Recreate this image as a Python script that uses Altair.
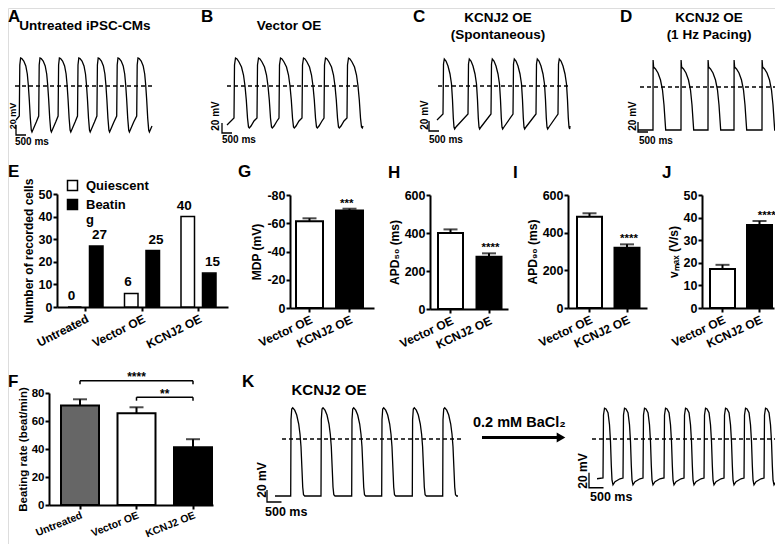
import altair as alt
import pandas as pd

FONT = "Liberation Sans"
CW, CH = 767, 536


def X(v):
    return v - 8


def Y(v):
    return v - 8


# ---------------- data ----------------
CATS3 = ["Untreated", "Vector OE", "KCNJ2 OE"]
CATS2 = ["Vector OE", "KCNJ2 OE"]

# E: number of recorded cells
E_SERIES = ["Quiescent", "Beating"]
E_QUIESCENT = [0, 6, 40]
E_BEATING = [27, 25, 15]

# F: beating rate (beat/min), mean and SEM
F_MEAN = [71.0, 65.5, 41.2]
F_SEM = [4.5, 4.3, 5.8]
F_COMPARE_FROM = ["Untreated", "Vector OE"]
F_COMPARE_TO = ["KCNJ2 OE", "KCNJ2 OE"]
F_COMPARE_MARK = ["****", "**"]
F_COMPARE_LEVEL = [88.8, 77.0]

# G-J: Vector OE vs KCNJ2 OE
G_MEAN = [-61.5, -69.0]
G_SEM = [2.0, 1.3]
G_MARK = ["", "***"]
H_MEAN = [400, 275]
H_SEM = [19, 18]
H_MARK = ["", "****"]
I_MEAN = [485, 320]
I_SEM = [18, 18]
I_MARK = ["", "****"]
J_MEAN = [17.3, 36.7]
J_SEM = [1.8, 1.8]
J_MARK = ["", "****"]

# Scale bars of the recordings
SCALE_MV = 20
SCALE_MS = 500

# Action potential recordings: one beat's shape (ms after upstroke, mV) and upstroke times (ms)
A_BEAT_T = [0, 25, 65, 125, 225, 325, 400, 450, 500, 550, 600, 635, 700, 850]
A_BEAT_V = [-60, 42, 56, 55, 50, 40, 24, 2, -28, -64, -88, -92, -86, -72]
A_ONSETS = [165, 1135, 2105, 3075, 4045, 5035, 6035]
A_START = [0, -68]
A_END = [6800, -80]

B_BEAT_T = [0, 25, 75, 150, 250, 375, 475, 550, 615, 675, 725, 765, 850, 1000]
B_BEAT_V = [-64, 42, 56, 54, 48, 38, 22, 0, -28, -64, -82, -84, -80, -70]
B_ONSETS = [350, 1500, 2600, 3750, 4850, 6000]
B_START = [0, -78]
B_END = [6800, -80]

C_BEAT_T = [0, 25, 65, 150, 250, 350, 425, 475, 515, 550, 585, 650]
C_BEAT_V = [-56, 44, 54, 50, 40, 24, 4, -28, -64, -82, -86, -82]
C_ONSETS = [300, 1550, 2700, 3800, 4950, 6050]
C_START = [0, -68]
C_END = [6650, -80]

D_BEAT_T = [0, 5, 30, 125, 250, 375, 475, 550, 600, 635]
D_BEAT_V = [-86, 54, 40, 36, 28, 14, -6, -36, -66, -86]
D_ONSETS = [750, 2150, 3500, 4800, 6200]
D_START = [0, -86]
D_END = [6950, -86]

K1_BEAT_T = [0, 10, 35, 69, 138, 207, 276, 321, 355, 386, 414, 442, 483]
K1_BEAT_V = [-95, 32, 50, 52, 48, 40, 25, 8, -13, -48, -80, -93, -95]
K1_ONSETS = [542, 1587, 2646, 3681, 4737, 5786]
K1_START = [0, -95]
K1_END = [6314, -95]

K2_BEAT_T = [0, 17, 52, 104, 173, 224, 259, 286, 311, 345, 414, 587]
K2_BEAT_V = [-52, 32, 41, 40, 35, 19, -4, -35, -55, -61, -57, -53]
K2_ONSETS = [207, 897, 1587, 2312, 3002, 3692, 4382, 5072, 5762]
K2_START = [0, -53]
K2_END = [6383, -55]

layers = []


def txt(s, x, y, size=12, align="center", baseline="middle", angle=0):
    return alt.Chart(alt.Data(values=[{}])).mark_text(
        text=s, font=FONT, fontSize=size, fontWeight="bold", color="black",
        align=align, baseline=baseline, angle=angle,
    ).encode(x=alt.value(X(x)), y=alt.value(Y(y)))


def trace_layers(beat_t, beat_v, onsets, start, end, ms_px, mv_px, x0, y0, dash, sbar):
    rows = [tuple(start)]
    for on in onsets:
        for dt, v in zip(beat_t, beat_v):
            if on + dt < end[0]:
                rows.append((on + dt, v))
    rows.append(tuple(end))
    df = pd.DataFrame(rows, columns=["t", "v"])
    df["i"] = range(len(df))
    xs = alt.Scale(domain=[0, 1000], range=[X(x0), X(x0) + 1000.0 / ms_px], nice=False, zero=False)
    ys = alt.Scale(domain=[0, 100], range=[Y(y0), Y(y0) - 100.0 / mv_px], nice=False, zero=False)
    line = alt.Chart(df).mark_line(color="black", strokeWidth=1.3).encode(
        x=alt.X("t:Q", scale=xs, axis=None), y=alt.Y("v:Q", scale=ys, axis=None), order="i:Q")
    ddf = pd.DataFrame({"t": [dash[0]], "t2": [dash[1]], "v": [0]})
    dashed = alt.Chart(ddf).mark_rule(color="black", strokeWidth=1.5, strokeDash=[4, 3]).encode(
        x=alt.X("t:Q", scale=xs, axis=None), x2="t2:Q", y=alt.Y("v:Q", scale=ys, axis=None))
    sdf = pd.DataFrame({"t": [sbar[0], sbar[0], sbar[0] + SCALE_MS],
                        "v": [sbar[1] + SCALE_MV, sbar[1], sbar[1]], "i": [0, 1, 2]})
    bar = alt.Chart(sdf).mark_line(color="black", strokeWidth=1.3).encode(
        x=alt.X("t:Q", scale=xs, axis=None), y=alt.Y("v:Q", scale=ys, axis=None), order="i:Q")
    return [line, dashed, bar]


def band(domain, a0, a1, c0, step, bw):
    L = a1 - a0
    n = len(domain)
    pi = 1 - bw / step
    rem = L - step * (n - pi)
    po = rem / (2 * step)
    start0 = c0 - bw / 2 - a0
    align = start0 / rem if rem > 0 else 0.5
    return alt.Scale(domain=domain, range=[X(a0), X(a1)], paddingInner=pi,
                     paddingOuter=po, align=align)


def yaxis(x_img, title, values, lsize=12.5, tsize=12):
    return alt.Axis(orient="left", offset=-X(x_img), values=values, title=title, grid=False,
                    domainColor="black", domainWidth=2, tickColor="black", tickWidth=2,
                    tickSize=4, labelFont=FONT, labelFontSize=lsize, labelFontWeight="bold",
                    labelColor="black", labelPadding=1, titleFont=FONT, titleFontSize=tsize,
                    titleFontWeight="bold", titleColor="black", titlePadding=3,
                    labelExpr="'' + datum.value", labelOverlap=False)


def xaxis(y_img, lsize=12, angle=335, pad=2):
    return alt.Axis(orient="bottom", offset=Y(y_img) - CH, title=None, labelAngle=angle,
                    grid=False, domainColor="black", domainWidth=2, tickColor="black",
                    tickWidth=2, tickSize=4, labelFont=FONT, labelFontSize=lsize,
                    labelFontWeight="bold", labelColor="black", labelPadding=pad,
                    labelOverlap=False)


# ---------------- row 1: recordings A-D ----------------
layers += trace_layers(A_BEAT_T, A_BEAT_V, A_ONSETS, A_START, A_END, 50, 2, 16, 86, (-50, 6850), (0, -98))
layers += trace_layers(B_BEAT_T, B_BEAT_V, B_ONSETS, B_START, B_END, 50, 2, 227, 86, (0, 6550), (-250, -94))
layers += trace_layers(C_BEAT_T, C_BEAT_V, C_ONSETS, C_START, C_END, 50, 2, 437, 86, (50, 6650), (-400, -90))
layers += trace_layers(D_BEAT_T, D_BEAT_V, D_ONSETS, D_START, D_END, 50, 2, 638, 87, (100, 6950), (0, -90))

layers += [
    txt("20 mV", 12.5, 116, 9, angle=270), txt("500 ms", 15, 142, 10, align="left"),
    txt("20 mV", 216, 116, 10, angle=270), txt("500 ms", 222, 140, 10, align="left"),
    txt("20 mV", 424.5, 115, 10, angle=270), txt("500 ms", 429, 140, 10, align="left"),
    txt("20 mV", 632.5, 116, 10, angle=270), txt("500 ms", 639, 141, 10, align="left"),
    txt("Untreated iPSC-CMs", 85, 26, 13.5), txt("Vector OE", 289, 26, 13.5),
    txt("KCNJ2 OE", 498, 18, 13.5), txt("(Spontaneous)", 498, 35, 13.5),
    txt("KCNJ2 OE", 709, 18, 13.5), txt("(1 Hz Pacing)", 709, 35, 13.5),
]

# ---------------- E ----------------
edf = pd.DataFrame({"cat": CATS3 * 2, "series": ["Quiescent"] * 3 + ["Beating"] * 3,
                    "value": E_QUIESCENT + E_BEATING})
ex = band(CATS3, 57, 228, 85.5, 56.5, 56.5)
eo = alt.Scale(domain=E_SERIES, paddingInner=0.372, paddingOuter=0.5)
ey = alt.Scale(domain=[0, 50], range=[Y(307), Y(194)], nice=False, zero=False)
elegend = alt.Legend(orient="none", legendX=X(66), legendY=Y(179), title=None, direction="vertical",
                     symbolType="square", symbolSize=100, symbolStrokeColor="black",
                     symbolStrokeWidth=1.5, labelFont=FONT, labelFontSize=13,
                     labelFontWeight="bold", labelColor="black", rowPadding=2, labelOffset=7,
                     labelExpr="datum.label == 'Beating' ? ['Beatin', 'g'] : datum.label")
layers.append(alt.Chart(edf).mark_bar(stroke="black", strokeWidth=1.5).encode(
    x=alt.X("cat:N", scale=ex, axis=xaxis(307, 12, 333)),
    xOffset=alt.XOffset("series:N", scale=eo),
    y=alt.Y("value:Q", scale=ey, axis=yaxis(57, "Number of recorded cells", [0, 10, 20, 30, 40, 50])),
    fill=alt.Fill("series:N", scale=alt.Scale(domain=E_SERIES, range=["white", "black"]), legend=elegend),
))
layers.append(alt.Chart(edf).mark_text(font=FONT, fontSize=13.5, fontWeight="bold", baseline="bottom", dy=-4, color="black").encode(
    x=alt.X("cat:N", scale=ex, axis=None),
    xOffset=alt.XOffset("series:N", scale=eo),
    y=alt.Y("value:Q", scale=ey, axis=None),
    text="value:Q",
))


# ---------------- G-J ----------------
def small_panel(means, sems, marks, a0, a1, c0, step, bw, ydom, yrng_img, axis_y_img, axis_x_img, ticks, title):
    df = pd.DataFrame({"cat": CATS2, "mean": means, "sem": sems, "mark": marks})
    df["top"] = [m + (s if m >= 0 else -s) for m, s in zip(means, sems)]
    xs = band(CATS2, a0, a1, c0, step, bw)
    ys = alt.Scale(domain=ydom, range=[Y(yrng_img[0]), Y(yrng_img[1])], nice=False, zero=False)
    out = []
    out.append(alt.Chart(df).mark_bar(stroke="black", strokeWidth=2).encode(
        x=alt.X("cat:N", scale=xs, axis=xaxis(axis_y_img)),
        y=alt.Y("mean:Q", scale=ys, axis=yaxis(axis_x_img, title, ticks)),
        fill=alt.Fill("cat:N", scale=alt.Scale(domain=CATS2, range=["white", "black"]), legend=None),
    ))
    out.append(alt.Chart(df).mark_rule(color="black", strokeWidth=2).encode(
        x=alt.X("cat:N", scale=xs, axis=None), y=alt.Y("mean:Q", scale=ys, axis=None), y2="top:Q"))
    out.append(alt.Chart(df).mark_tick(color="black", thickness=2, size=14).encode(
        x=alt.X("cat:N", scale=xs, axis=None), y=alt.Y("top:Q", scale=ys, axis=None)))
    out.append(alt.Chart(df).mark_text(font=FONT, fontSize=11.5, fontWeight="bold", baseline="alphabetic", dy=-2, color="black").encode(
        x=alt.X("cat:N", scale=xs, axis=None), y=alt.Y("top:Q", scale=ys, axis=None), text="mark:N"))
    return out


layers += small_panel(G_MEAN, G_SEM, G_MARK, 290, 374, 309.5, 40, 27, [-80, 0], (195, 308), 308, 290,
                      [-80, -60, -40, -20, 0], "MDP (mV)")
layers += small_panel(H_MEAN, H_SEM, H_MARK, 430, 508, 450.5, 38.5, 25, [0, 600], (309, 195), 309, 430,
                      [0, 200, 400, 600], "APD₅₀ (ms)")
layers += small_panel(I_MEAN, I_SEM, I_MARK, 568, 647, 589.5, 37.5, 25, [0, 600], (308, 195), 308, 568,
                      [0, 200, 400, 600], "APD₉₀ (ms)")
layers += small_panel(J_MEAN, J_SEM, J_MARK, 702, 774, 722.5, 37, 25, [0, 50], (308, 195), 308, 702,
                      [0, 10, 20, 30, 40, 50], "vₘₐₓ (V/s)")

# ---------------- F ----------------
fdf = pd.DataFrame({"cat": CATS3, "mean": F_MEAN, "sem": F_SEM})
fdf["top"] = fdf["mean"] + fdf["sem"]
fx = band(CATS3, 49, 213, 80, 56.5, 38)
fy = alt.Scale(domain=[0, 80], range=[Y(505), Y(393)], nice=False, zero=False)
layers.append(alt.Chart(fdf).mark_bar(stroke="black", strokeWidth=2).encode(
    x=alt.X("cat:N", scale=fx, axis=xaxis(505, 10.5, 338, 1)),
    y=alt.Y("mean:Q", scale=fy, axis=yaxis(49, "Beating rate (beat/min)", [0, 20, 40, 60, 80], 11.5, 11.5)),
    fill=alt.Fill("cat:N", scale=alt.Scale(domain=CATS3, range=["#666666", "white", "black"]), legend=None),
))
layers.append(alt.Chart(fdf).mark_rule(color="black", strokeWidth=2).encode(
    x=alt.X("cat:N", scale=fx, axis=None), y=alt.Y("mean:Q", scale=fy, axis=None), y2="top:Q"))
layers.append(alt.Chart(fdf).mark_tick(color="black", thickness=2, size=14).encode(
    x=alt.X("cat:N", scale=fx, axis=None), y=alt.Y("top:Q", scale=fy, axis=None)))

idx = {c: i for i, c in enumerate(CATS3)}
sig = pd.DataFrame({"i1": [idx[c] for c in F_COMPARE_FROM], "i2": [idx[c] for c in F_COMPARE_TO],
                    "level": F_COMPARE_LEVEL, "mark": F_COMPARE_MARK})
sig["mid"] = (sig["i1"] + sig["i2"]) / 2
sig["low"] = sig["level"] - 2.5
ends = pd.concat([sig[["i1", "level", "low"]].rename(columns={"i1": "i"}),
                  sig[["i2", "level", "low"]].rename(columns={"i2": "i"})])
fi = alt.Scale(domain=[0, 2], range=[X(80), X(80 + 2 * 56.5)], nice=False, zero=False)
layers.append(alt.Chart(sig).mark_rule(color="black", strokeWidth=1.5).encode(
    x=alt.X("i1:Q", scale=fi, axis=None), x2="i2:Q", y=alt.Y("level:Q", scale=fy, axis=None)))
layers.append(alt.Chart(ends).mark_rule(color="black", strokeWidth=1.5).encode(
    x=alt.X("i:Q", scale=fi, axis=None), y=alt.Y("level:Q", scale=fy, axis=None), y2="low:Q"))
layers.append(alt.Chart(sig).mark_text(font=FONT, fontSize=12, fontWeight="bold", baseline="alphabetic", dy=0.5, color="black").encode(
    x=alt.X("mid:Q", scale=fi, axis=None), y=alt.Y("level:Q", scale=fy, axis=None), text="mark:N"))

# ---------------- K ----------------
layers += trace_layers(K1_BEAT_T, K1_BEAT_V, K1_ONSETS, K1_START, K1_END, 34.5, 1.667, 275, 439, (242, 6452), (-276, -105))
layers += trace_layers(K2_BEAT_T, K2_BEAT_V, K2_ONSETS, K2_START, K2_END, 34.5, 1.333, 597, 439, (-173, 6417), (-276, -65))
layers += [
    txt("20 mV", 261.5, 480, 12, angle=270), txt("500 ms", 265, 512, 12.5, align="left"),
    txt("20 mV", 583, 471, 12, angle=270), txt("500 ms", 590, 497, 12.5, align="left"),
    txt("KCNJ2 OE", 329, 390, 15),
    txt("0.2 mM  BaCl₂", 473, 423, 14.5, align="left"),
    alt.Chart(alt.Data(values=[{}])).mark_rule(color="black", strokeWidth=3).encode(
        x=alt.value(X(482)), x2=alt.value(X(558)), y=alt.value(Y(437.5))),
    alt.Chart(alt.Data(values=[{}])).mark_point(shape="triangle-right", filled=True, size=100,
                                                color="black", opacity=1).encode(
        x=alt.value(X(561)), y=alt.value(Y(437.5))),
]

# ---------------- panel letters ----------------
for letter, lx, ly in [("A", 8, 21.5), ("B", 201, 21.5), ("C", 413, 21.5), ("D", 620, 21.5),
                       ("E", 8, 177), ("G", 238, 177), ("H", 388, 178), ("I", 513, 178),
                       ("J", 662, 178), ("F", 8, 387), ("K", 242, 387)]:
    layers.append(txt(letter, lx, ly, 17, align="left", baseline="alphabetic"))

chart = alt.layer(*layers).properties(
    width=CW, height=CH, padding=0, autosize=alt.AutoSizeParams(type="none"),
).resolve_scale(
    x="independent", y="independent", fill="independent", xOffset="independent",
).resolve_axis(
    x="independent", y="independent",
).resolve_legend(fill="independent").configure_view(stroke=None).configure(font=FONT)

chart.save("out.html", embed_options={"renderer": "svg", "actions": False})
